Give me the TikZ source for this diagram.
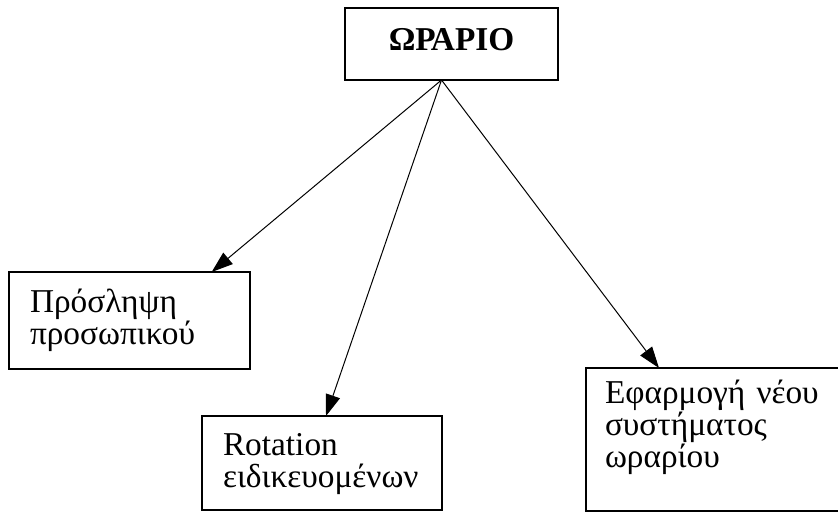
\documentclass[tikz,border=0pt]{standalone}
\usepackage{fontspec}
\setmainfont{Liberation Serif}
\usetikzlibrary{arrows.meta}
\tikzset{
  every picture/.style={x=0.75pt, y=-0.75pt, line width=0.75pt},
  box/.style={draw, line width=0.9pt, anchor=north west, outer sep=0pt, inner ysep=0pt,
    align=left, font=\fontsize{25pt}{24pt}\selectfont},
  title/.style={box, align=center, inner xsep=0pt, font=\fontsize{25pt}{24pt}\selectfont\bfseries},
  arrow/.style={-{Triangle[length=16pt, width=11pt]}, line width=0.75pt},
}
\begin{document}
\begin{tikzpicture}
  \useasboundingbox (0,0) rectangle (838,512);
  % top box and the point the arrows leave from
  \node[title, text width=159.75pt, text height=31.5pt, text depth=22.5pt] (hours) at (345,8) {ΩΡΑΡΙΟ};
  \coordinate (hub) at ([xshift=-7.5pt]hours.south);
  % the three measures
  \node[box, inner xsep=15.75pt, text width=149.25pt, text height=30pt, text depth=42.75pt]
    (hire) at (9,272) {Πρόσληψη\\προσωπικού};
  \node[box, inner xsep=15.75pt, text width=148.5pt, text height=29.25pt, text depth=41.25pt]
    (rot) at (202,416) {Rotation\\ειδικευομένων};
  \node[box, inner xsep=14.25pt, text width=165.75pt, text height=26.25pt, text depth=81pt]
    (sys) at (586,368) {Εφαρμογή νέου\\συστήματος\\ωραρίου};
  \foreach \n/\dx in {hire/152pt, rot/93pt, sys/54.75pt}
    \draw[arrow] (hub) -- ([xshift=\dx]\n.north west);
\end{tikzpicture}
\end{document}
